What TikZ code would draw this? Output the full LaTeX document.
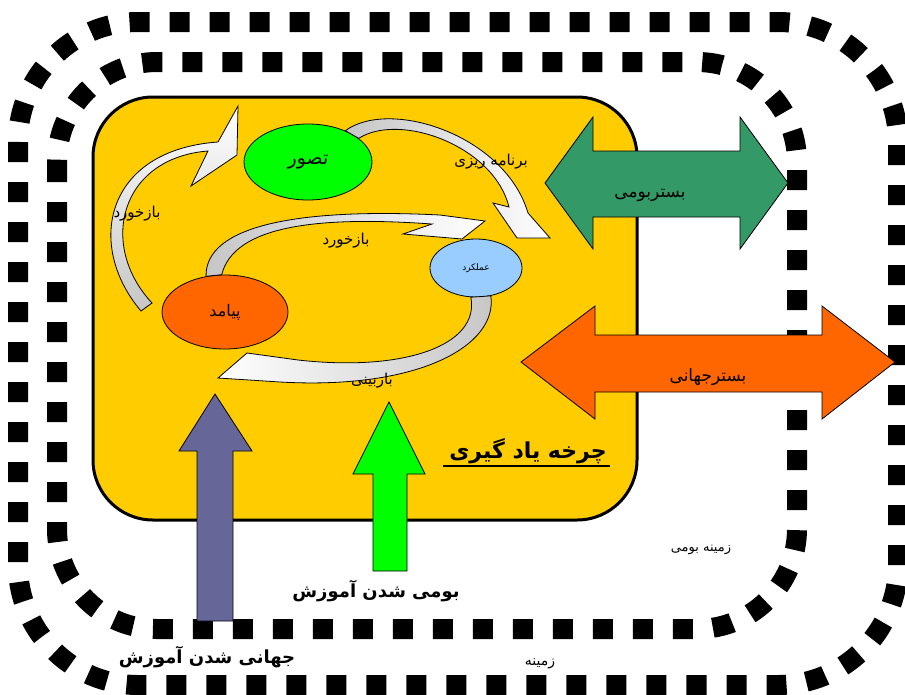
\documentclass[tikz,border=0pt]{standalone}
\usepackage{fontspec}
\usetikzlibrary{shapes.geometric}
\TeXXeTstate=1
\newfontfamily\arabicfont[Script=Arabic]{DejaVu Sans}
\definecolor{cycleyellow}{HTML}{FFCC00}
\definecolor{ideagreen}{HTML}{00FF00}
\definecolor{actblue}{HTML}{99CCFF}
\definecolor{resultorange}{HTML}{FF6600}
\definecolor{localgreen}{HTML}{339966}
\definecolor{globalpurple}{HTML}{666699}

\begin{document}
\begin{tikzpicture}[x=1pt,y=-1pt,
      every node/.style={inner sep=0pt,align=center},
      frame/.style={line width=20pt,dash pattern=on 20pt off 20pt},
      bubble/.style={ellipse,draw,thick,inner sep=0pt},
      ribbon/.style={draw,thick},
      block/.style={draw,thick},
      lbl/.style={font=\arabicfont\fontsize{15}{17}\selectfont},
      big/.style={font=\arabicfont\bfseries\fontsize{18}{21}\selectfont}]
  \useasboundingbox (0,0) rectangle (905,694);
  \draw[frame,rounded corners=120] (18,22) rectangle (898,685);
  \draw[frame,rounded corners=100] (57,62) rectangle (797,629);
  \draw[line width=3pt,fill=cycleyellow,rounded corners=60] (93,97) rectangle (637,520);

  \draw[block,fill=localgreen] (545,183) -- (593,117) -- (593,151) -- (740,151) -- (740,117) -- (788,183)
    -- (740,249) -- (740,217) -- (593,217) -- (593,249) -- cycle;
  \draw[block,fill=resultorange] (521,362) -- (595,306) -- (595,335) -- (822,335) -- (822,306) -- (895,362)
    -- (822,419) -- (822,392) -- (595,392) -- (595,419) -- cycle;
  \draw[block,fill=globalpurple] (215,394) -- (252,451) -- (233,451) -- (233,621) -- (197,621) -- (197,451)
    -- (179,451) -- cycle;
  \draw[block,fill=ideagreen] (389,402) -- (425,474) -- (407,474) -- (407,571) -- (373,571) -- (373,474)
    -- (353,474) -- cycle;

  \node[bubble,fill=ideagreen,minimum width=128pt,minimum height=76pt,font=\arabicfont\fontsize{19}{21}\selectfont]
    (tasavvor) at (308,162) {\beginR تصور\endR};
  \node[bubble,fill=actblue,minimum width=92pt,minimum height=58pt,font=\arabicfont\fontsize{9}{10}\selectfont]
    (amalkard) at (476,268) {\beginR عملکرد\endR};
  \node[bubble,fill=resultorange,minimum width=126pt,minimum height=74pt,font=\arabicfont\fontsize{16}{18}\selectfont]
    (payamad) at (225,312) {\beginR پیامد\endR};

  \path[ribbon,top color=white,bottom color=gray!45] (141,311) .. controls (85,245) and (105,150) .. (218,142)
    -- (238,106) -- (237,155) -- (191,186) -- (208,151) .. controls (120,158) and (98,245) .. (152,303) -- cycle;
  \path[ribbon,left color=gray!45,right color=white] (tasavvor.40) .. controls (390,98) and (505,135) .. (528,213)
    -- (550,238) -- (517,238) -- (493,203) -- (509,207) .. controls (494,146) and (400,112) .. (tasavvor.25) -- cycle;
  \path[ribbon,left color=gray!45,right color=white] (payamad.118) .. controls (205,225) and (300,208) .. (440,215)
    -- (485,221) -- (462,239) -- (403,234) -- (432,224) .. controls (320,216) and (234,225) .. (payamad.95) -- cycle;
  \path[ribbon,left color=white,right color=gray!45] (amalkard.-62) .. controls (498,345) and (420,390) .. (280,382)
    -- (218,378) -- (247,353) -- (298,360) .. controls (405,372) and (480,345) .. (amalkard.-100) -- cycle;

  \node[lbl] (bazkhord1) at (137,214) {\beginR بازخورد\endR};
  \node[lbl] (bazkhord2) at (346,241) {\beginR بازخورد\endR};
  \node[lbl] (barnameh) at (491,162) {\beginR برنامه ریزی\endR};
  \node[lbl] (bazbini) at (372,381) {\beginR بازبینی\endR};
  \node[lbl,font=\arabicfont\fontsize{17}{19}\selectfont] (bomi) at (650,195) {\beginR بستربومی\endR};
  \node[lbl,font=\arabicfont\fontsize{17}{19}\selectfont] (jahani) at (708,377) {\beginR بسترجهانی\endR};
  \node[big,font=\arabicfont\bfseries\fontsize{22}{25}\selectfont] (charkheh) at (528,451) {\beginR چرخه یاد گیری\endR};
  \draw[line width=2pt] (443,466) -- (610,466);
  \node[big] (bomishodan) at (376,591) {\beginR بومی شدن آموزش\endR};
  \node[big] (jahanishodan) at (207,657) {\beginR جهانی شدن آموزش\endR};
  \node[lbl,font=\arabicfont\fontsize{14}{16}\selectfont] (zamineh) at (540,664) {\beginR زمینه\endR};
  \node[lbl,font=\arabicfont\fontsize{13}{15}\selectfont] (zaminehbomi) at (701,550) {\beginR زمینه بومی\endR};
\end{tikzpicture}
\end{document}
